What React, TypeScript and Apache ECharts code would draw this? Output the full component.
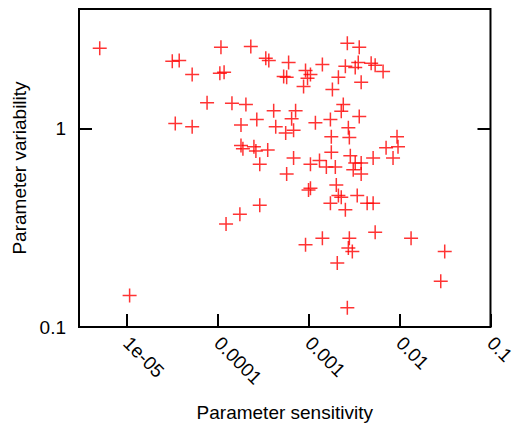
import React, { useEffect, useRef } from "react";
import * as echarts from "echarts";

const sensitivity = [
  5.07e-6, 3.18e-5, 3.79e-5, 5.26e-5, 1.09e-4, 1.06e-4, 1.18e-4, 2.32e-4, 3.39e-4, 3.66e-4,
  7.67e-5, 1.44e-4, 2.05e-4, 3.43e-5, 5.26e-5, 1.81e-4, 2.7e-4, 1.81e-4, 1.9e-4, 2.51e-4,
  2.64e-4, 3.56e-4, 2.91e-4, 4.14e-4, 4.36e-4, 5.61e-4, 6.85e-4, 6.04e-4, 5.33e-4, 5.75e-4,
  9.27e-4, 1.05e-3, 9.75e-4, 8.82e-4, 1.42e-3, 2.67e-3, 3.61e-3, 2.54e-3, 3.26e-3, 3.52e-3,
  4.88e-3, 5.4e-3, 6.6e-3, 2.13e-3, 3.79e-3, 1.83e-3, 2.41e-3, 2.29e-3, 3.61e-3, 7.21e-4,
  6.52e-4, 1.19e-3, 1.74e-3, 2.74e-3, 1.78e-3, 2.81e-3, 9.39e-3, 7.12e-3, 9.63e-3, 8.49e-3,
  5.13e-3, 6.85e-4, 1.05e-3, 1.32e-3, 1.57e-3, 1.97e-3, 1.78e-3, 2.88e-3, 3.26e-3, 3.79e-3,
  3.1e-3, 3.79e-3, 5.75e-4, 1.0e-3, 1.05e-3, 2.02e-3, 2.13e-3, 2.29e-3, 3.43e-3, 1.74e-3,
  2.54e-3, 4.41e-3, 5.13e-3, 2.91e-4, 1.76e-4, 1.24e-4, 5.4e-3, 1.42e-3, 2.81e-3, 9.27e-4,
  2.74e-3, 3.03e-3, 2.07e-3, 1.34e-2, 3.14e-2, 2.84e-2, 2.67e-3, 1.08e-5,
];

const variability = [
  2.54, 2.18, 2.2, 1.87, 2.57, 1.9, 1.92, 2.59, 2.26, 2.2,
  1.35, 1.34, 1.32, 1.06, 1.02, 1.04, 1.11, 0.82, 0.79, 0.81,
  0.77, 0.78, 0.66, 1.23, 1.02, 0.95, 0.98, 2.15, 1.83, 1.81,
  1.96, 1.87, 1.79, 1.63, 2.1, 2.69, 2.57, 2.06, 2.03, 2.15,
  2.13, 2.08, 1.94, 1.81, 1.71, 1.57, 1.32, 1.22, 1.15, 1.23,
  1.12, 1.07, 1.11, 1.01, 0.91, 0.9, 0.91, 0.8, 0.81, 0.71,
  0.71, 0.71, 0.66, 0.69, 0.64, 0.64, 0.76, 0.73, 0.67, 0.67,
  0.62, 0.59, 0.59, 0.49, 0.5, 0.52, 0.46, 0.45, 0.46, 0.42,
  0.39, 0.42, 0.42, 0.41, 0.37, 0.33, 0.3, 0.28, 0.28, 0.26,
  0.25, 0.24, 0.21, 0.28, 0.24, 0.17, 0.125, 0.144,
];

const xTickValues = [1e-5, 1e-4, 1e-3, 1e-2, 1e-1];
const xTickLabels = ["1e-05", "0.0001", "0.001", "0.01", "0.1"];
const yTickValues = [0.1, 1];
const yTickLabels = ["0.1", "1"];
const rightTickValues = [1];

const FONT = "'Liberation Sans', Arial, sans-serif";

function labelFor(values: number[], labels: string[], v: number): string {
  for (let i = 0; i < values.length; i++) {
    if (Math.abs(Math.log10(v) - Math.log10(values[i])) < 1e-6) return labels[i];
  }
  return "";
}

export default function App() {
  const ref = useRef<HTMLDivElement>(null);
  useEffect(() => {
    if (!ref.current) return;
    const chart = echarts.init(ref.current, undefined, { renderer: "svg" });
    const data = sensitivity.map((x, i) => [x, variability[i]]);
    chart.setOption({
      animation: false,
      backgroundColor: "#ffffff",
      grid: {
        left: 79,
        top: 9,
        right: 26,
        bottom: 101,
        show: true,
        borderColor: "#000000",
        borderWidth: 2,
        backgroundColor: "transparent",
      },
      xAxis: {
        type: "log",
        logBase: 10,
        min: 3e-6,
        max: 0.1,
        name: "Parameter sensitivity",
        nameLocation: "middle",
        nameGap: 76,
        nameTextStyle: { fontFamily: FONT, fontSize: 19, color: "#000" },
        axisLine: { show: false },
        splitLine: { show: false },
        minorTick: { show: false },
        axisTick: {
          show: true,
          inside: true,
          length: 13,
          customValues: xTickValues,
          lineStyle: { color: "#000", width: 2 },
        },
        axisLabel: {
          customValues: xTickValues,
          rotate: -45,
          margin: 13,
          fontFamily: FONT,
          fontSize: 19,
          color: "#000",
          formatter: (v: number) => labelFor(xTickValues, xTickLabels, v),
        },
      },
      yAxis: [
        {
          type: "log",
          logBase: 10,
          min: 0.1,
          max: 4,
          name: "Parameter variability",
          nameLocation: "middle",
          nameGap: 44,
          nameTextStyle: { fontFamily: FONT, fontSize: 19, color: "#000" },
          axisLine: { show: false },
          splitLine: { show: false },
          axisTick: {
            show: true,
            inside: true,
            length: 13,
            customValues: yTickValues,
            lineStyle: { color: "#000", width: 2 },
          },
          axisLabel: {
            customValues: yTickValues,
            margin: 13,
            fontFamily: FONT,
            fontSize: 19,
            color: "#000",
            formatter: (v: number) => labelFor(yTickValues, yTickLabels, v),
          },
        },
        {
          type: "log",
          logBase: 10,
          min: 0.1,
          max: 4,
          position: "right",
          axisLine: { show: false },
          splitLine: { show: false },
          axisTick: {
            show: true,
            inside: true,
            length: 13,
            customValues: rightTickValues,
            lineStyle: { color: "#000", width: 2 },
          },
          axisLabel: { show: false },
        },
      ],
      series: [
        {
          type: "scatter",
          data,
          symbol: "path://M0,7H14M7,0V14",
          symbolSize: 14,
          itemStyle: { color: "transparent", borderColor: "#ff0000", borderWidth: 1.5 },
          emphasis: { disabled: true },
        },
      ],
    });
    return () => chart.dispose();
  }, []);
  return (
    <div
      ref={ref}
      style={{ position: "fixed", left: 0, top: 0, width: 518, height: 428, background: "#fff" }}
    />
  );
}
